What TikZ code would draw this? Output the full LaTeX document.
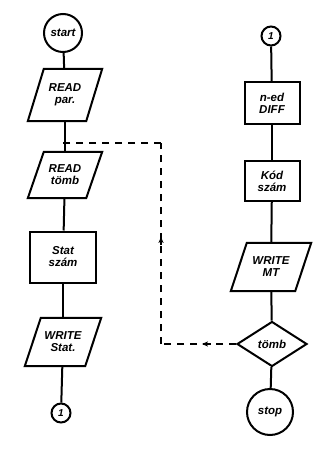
\documentclass[tikz,border=0pt]{standalone}
\usepackage{fontspec}
\setmainfont{Liberation Sans}
\usetikzlibrary{shapes.geometric,arrows.meta,decorations.markings}

\tikzset{
  flow/.style={line width=2pt},
  lbl/.style={font=\bfseries\itshape\fontsize{11.5}{12}\selectfont, align=center, inner sep=0pt},
  term/.style={lbl, flow, draw, circle},
  proc/.style={lbl, flow, draw, rectangle},
  iobox/.style={lbl},
  dec/.style={lbl, flow, draw, diamond, aspect=1.55, inner sep=1pt},
  link/.style={lbl, flow, draw, circle, minimum size=19pt, font=\bfseries\itshape\fontsize{10}{10}\selectfont},
  back/.style={line width=1.4pt, dash pattern=on 7pt off 6pt,
    postaction={decorate}},
  tipat/.style={decoration={markings, mark=at position #1 with
    {\fill[solid] (2.5pt,0) -- (-3.5pt,2.6pt) -- (-2pt,0) -- (-3.5pt,-2.6pt) -- cycle;
     \draw[solid, line width=1.4pt] (-6pt,0) -- (0pt,0);}}}
}

% parallelogram (input/output) drawn around a named, borderless node
\newcommand{\iosides}[2]{%
  \draw[flow] ([xshift=#2]#1.north west) -- ([xshift=#2]#1.north east)
    -- ([xshift=-#2]#1.south east) -- ([xshift=-#2]#1.south west) -- cycle;}

\begin{document}
\begin{tikzpicture}[x=1pt, y=-1pt]
  \useasboundingbox (0,0) rectangle (321,458);

  % left column
  \node[term, minimum size=38pt] (start) at (63,33) {start};
  \node[iobox, minimum width=58pt, minimum height=52pt] (rpar) at (65,95) {READ\\par.};
  \iosides{rpar}{8pt}
  \node[iobox, minimum width=58pt, minimum height=46pt] (rtomb) at (65,175) {READ\\tömb};
  \iosides{rtomb}{8pt}
  \node[proc, minimum width=66pt, minimum height=51pt] (stat) at (63,257) {Stat\\szám};
  \node[iobox, minimum width=60pt, minimum height=48pt] (wstat) at (63,342) {WRITE\\Stat.};
  \iosides{wstat}{8pt}
  \node[link] (c1) at (61,413) {1};

  % right column
  \node[link] (c2) at (271,36) {1};
  \node[proc, minimum width=55pt, minimum height=42pt] (diff) at (272,103) {n-ed\\DIFF};
  \node[proc, minimum width=55pt, minimum height=40pt] (kod) at (272,181) {Kód\\szám};
  \node[iobox, minimum width=64pt, minimum height=48pt] (wmt) at (271,267) {WRITE\\MT};
  \iosides{wmt}{8pt}
  \node[dec, minimum width=70pt, minimum height=45pt] (tomb) at (272,344) {tömb};
  \node[term, minimum size=46pt] (stop) at (270,412) {stop};

  \coordinate (bl) at (161,344);
  \coordinate (tl) at (161,143);
  \coordinate (jn) at (63,143);

  % main flow
  \draw[flow] (start) -- (rpar);
  \draw[flow] (rpar) -- (rtomb);
  \draw[flow] (rtomb) -- (stat);
  \draw[flow] (stat) -- (wstat);
  \draw[flow] (wstat) -- (c1);
  \draw[flow] (c2) -- (diff);
  \draw[flow] (diff) -- (kod);
  \draw[flow] (kod) -- (wmt);
  \draw[flow] (wmt) -- (tomb);
  \draw[flow] (tomb) -- (stop);

  % loop back
  \draw[back, tipat=0.42] (tomb.west) -- (bl);
  \draw[back, tipat=0.52] (bl) -- (tl);
  \draw[back] (tl) -- (jn);
\end{tikzpicture}
\end{document}
